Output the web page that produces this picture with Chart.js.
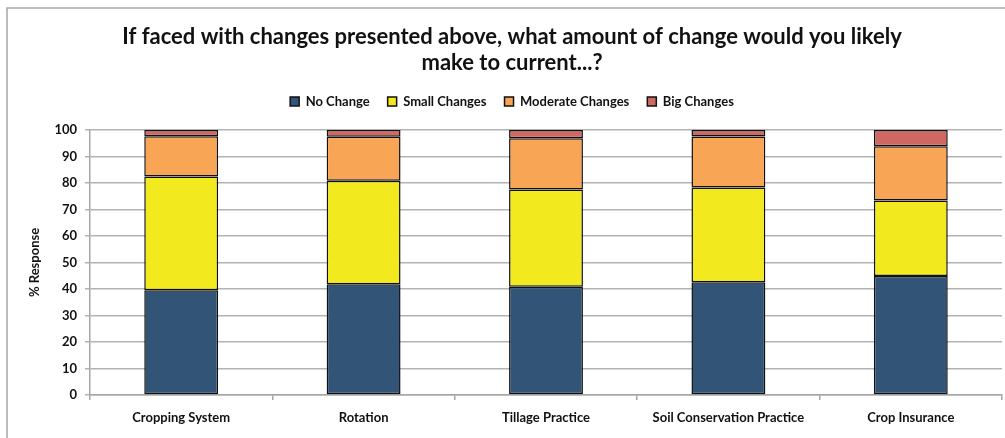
<!DOCTYPE html>
<html>
<head>
<meta charset="utf-8">
<script src="https://cdn.jsdelivr.net/npm/chart.js@4"></script>
<style>
  html, body { margin: 0; padding: 0; background: #fff; }
  #wrap { width: 1005px; height: 438px; position: relative; }
</style>
</head>
<body>
<div id="wrap"><canvas id="chart"></canvas></div>
<script>
var categories = ['Cropping System', 'Rotation', 'Tillage Practice', 'Soil Conservation Practice', 'Crop Insurance'];
var noChange = [39.5, 41.8, 40.8, 42.5, 44.9];
var smallChanges = [42.9, 39.0, 36.7, 35.8, 28.5];
var moderateChanges = [15.2, 16.6, 19.4, 19.2, 20.4];
var bigChanges = [2.4, 2.6, 3.1, 2.5, 6.2];
var yTicks = [0, 10, 20, 30, 40, 50, 60, 70, 80, 90, 100];

var FONT = 'Lato, "Open Sans", sans-serif';

// gray frame round the chart, like the spreadsheet chart box
var framePlugin = {
  id: 'frame',
  beforeDraw: function(chart) {
    var ctx = chart.ctx;
    ctx.save();
    ctx.strokeStyle = '#a6a6a6';
    ctx.lineWidth = 1.5;
    ctx.beginPath();
    ctx.moveTo(7, 440);
    ctx.lineTo(7, 8);
    ctx.lineTo(1010, 8);
    ctx.stroke();
    ctx.restore();
  }
};

// a bit more room under the legend
var legendGap = {
  id: 'legendGap',
  beforeInit: function(chart) {
    var fit = chart.legend.fit;
    chart.legend.fit = function() {
      fit.bind(chart.legend)();
      this.height += 12;
    };
  }
};

function ds(label, data, color) {
  return {
    label: label,
    data: data,
    backgroundColor: color,
    borderColor: '#111',
    borderWidth: 1.5,
    borderSkipped: false,
    barPercentage: 0.405,
    categoryPercentage: 1
  };
}

new Chart(document.getElementById('chart'), {
  type: 'bar',
  data: {
    labels: categories,
    datasets: [
      ds('No Change', noChange, '#325476'),
      ds('Small Changes', smallChanges, '#f2ea1e'),
      ds('Moderate Changes', moderateChanges, '#f8a656'),
      ds('Big Changes', bigChanges, '#cf6762')
    ]
  },
  options: {
    responsive: true,
    maintainAspectRatio: false,
    animation: false,
    layout: { padding: { left: 22, right: 3, top: 0, bottom: 0 } },
    plugins: {
      title: {
        display: true,
        text: ['If faced with changes presented above, what amount of change would you likely', 'make to current...?'],
        color: '#111',
        font: { family: FONT, size: 22, weight: 'bold', lineHeight: 1.18 },
        padding: { top: 24, bottom: 1 }
      },
      legend: {
        display: true,
        position: 'top',
        labels: {
          color: '#111',
          font: { family: FONT, size: 13, weight: 'bold' },
          boxWidth: 9,
          boxHeight: 9,
          padding: 18
        }
      },
      tooltip: { enabled: false }
    },
    scales: {
      x: {
        stacked: true,
        afterFit: function(s) { s.height = 43; },
        grid: {
          offset: true,
          drawOnChartArea: false,
          drawTicks: true,
          tickLength: 5,
          color: '#a6a6a6',
          lineWidth: 1.5
        },
        border: { color: '#a6a6a6', width: 1.5 },
        ticks: {
          color: '#111',
          font: { family: FONT, size: 13, weight: 'bold' },
          padding: 10,
          maxRotation: 0
        }
      },
      y: {
        stacked: true,
        min: 0,
        max: 100,
        afterFit: function(s) { s.width = 68; },
        afterBuildTicks: function(s) { s.ticks = yTicks.map(function(v) { return { value: v }; }); },
        grid: {
          color: '#b3b3b3',
          lineWidth: 1.5,
          tickLength: 5
        },
        border: { color: '#a6a6a6', width: 1.5 },
        ticks: {
          color: '#111',
          font: { family: FONT, size: 13, weight: 'bold' },
          padding: 8
        },
        title: {
          display: true,
          text: '% Response',
          color: '#111',
          font: { family: FONT, size: 13, weight: 'bold' },
          padding: { top: 5, bottom: 0 }
        }
      }
    }
  },
  plugins: [framePlugin, legendGap]
});
</script>
</body>
</html>
